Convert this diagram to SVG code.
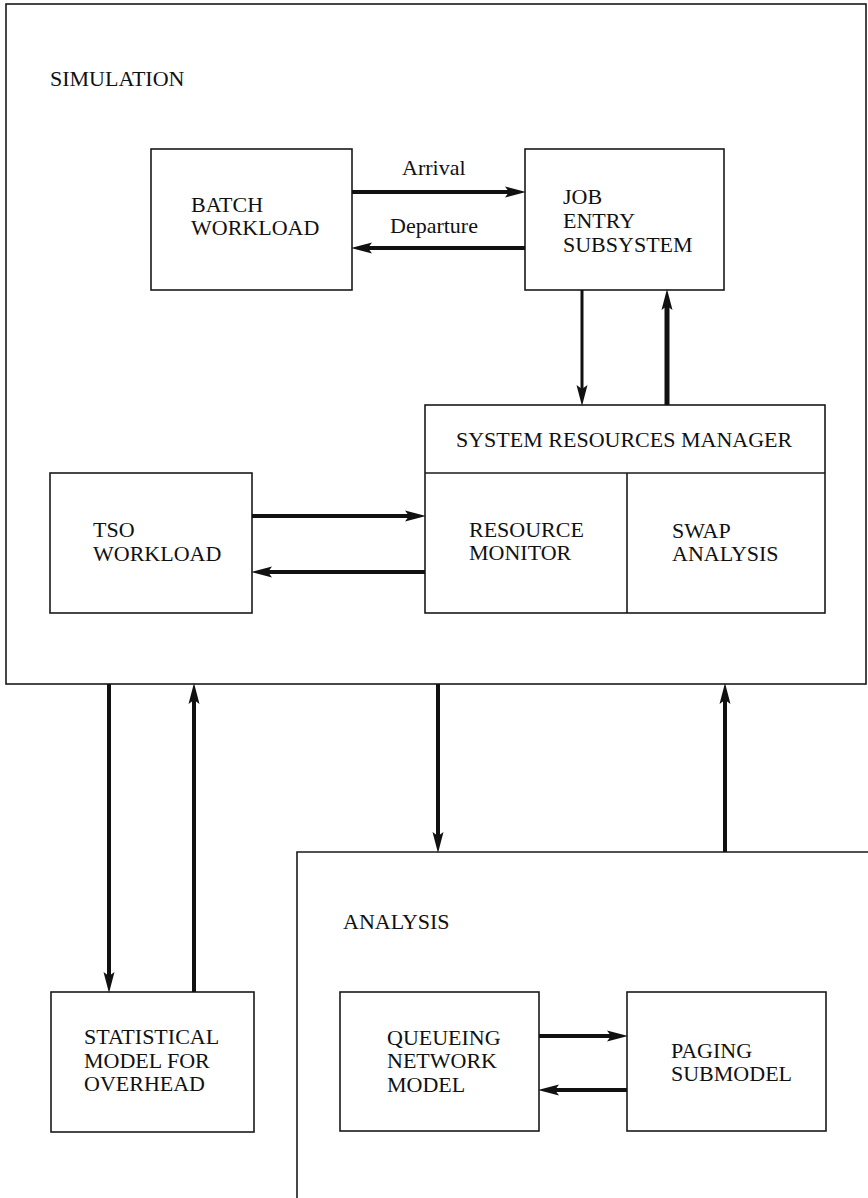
<svg xmlns="http://www.w3.org/2000/svg" width="868" height="1198" viewBox="0 0 868 1198">
  <style>
    .box { fill: none; stroke: #1a1a1a; stroke-width: 1.6; }
    .lbl { font-family: "Liberation Serif", "Times New Roman", serif; font-size: 22px; fill: #111; }
    .arr { stroke: #111; stroke-width: 4; fill: none; marker-end: url(#ah); }
  </style>
  <defs>
    <marker id="ah" markerUnits="userSpaceOnUse" markerWidth="22" markerHeight="12" refX="10" refY="6" orient="auto" viewBox="0 0 22 12">
      <path d="M0,0.5 L21,6 L0,11.5 L4,6 Z" fill="#111"/>
    </marker>
  </defs>
  <rect width="868" height="1198" fill="#fff"/>

  <g id="simulation">
    <rect class="box" x="6" y="4" width="860" height="680"/>
    <text class="lbl" x="50" y="86">SIMULATION</text>
  </g>

  <g id="batch-workload">
    <rect class="box" x="151" y="149" width="201" height="141"/>
    <text class="lbl" x="191" y="212">BATCH</text>
    <text class="lbl" x="191" y="235">WORKLOAD</text>
  </g>

  <g id="job-entry-subsystem">
    <rect class="box" x="525" y="149" width="199" height="141"/>
    <text class="lbl" x="563" y="204">JOB</text>
    <text class="lbl" x="563" y="228">ENTRY</text>
    <text class="lbl" x="563" y="252">SUBSYSTEM</text>
  </g>

  <g id="system-resources-manager">
    <rect class="box" x="425" y="405" width="400" height="208"/>
    <line class="box" x1="425" y1="473" x2="825" y2="473"/>
    <line class="box" x1="627" y1="473" x2="627" y2="613"/>
    <text class="lbl" x="456" y="447">SYSTEM RESOURCES MANAGER</text>
  </g>

  <g id="resource-monitor">
    <text class="lbl" x="469" y="537">RESOURCE</text>
    <text class="lbl" x="469" y="560">MONITOR</text>
  </g>

  <g id="swap-analysis">
    <text class="lbl" x="672" y="538">SWAP</text>
    <text class="lbl" x="672" y="561">ANALYSIS</text>
  </g>

  <g id="tso-workload">
    <rect class="box" x="50" y="473" width="202" height="140"/>
    <text class="lbl" x="93" y="537">TSO</text>
    <text class="lbl" x="93" y="561">WORKLOAD</text>
  </g>

  <g id="statistical-model">
    <rect class="box" x="51" y="992" width="203" height="140"/>
    <text class="lbl" x="84" y="1044">STATISTICAL</text>
    <text class="lbl" x="84" y="1068">MODEL FOR</text>
    <text class="lbl" x="84" y="1091">OVERHEAD</text>
  </g>

  <g id="analysis">
    <path class="box" d="M868,852 L297,852 L297,1198"/>
    <text class="lbl" x="343" y="929">ANALYSIS</text>
  </g>

  <g id="queueing-network-model">
    <rect class="box" x="340" y="992" width="199" height="139"/>
    <text class="lbl" x="387" y="1045">QUEUEING</text>
    <text class="lbl" x="387" y="1068">NETWORK</text>
    <text class="lbl" x="387" y="1092">MODEL</text>
  </g>

  <g id="paging-submodel">
    <rect class="box" x="627" y="992" width="199" height="139"/>
    <text class="lbl" x="671" y="1058">PAGING</text>
    <text class="lbl" x="671" y="1081">SUBMODEL</text>
  </g>

  <g id="connectors">
    <line class="arr" x1="352" y1="192" x2="515" y2="192"/>
    <text class="lbl" x="402" y="175">Arrival</text>
    <line class="arr" x1="525" y1="248" x2="362" y2="248"/>
    <text class="lbl" x="390" y="233">Departure</text>
    <line class="arr" x1="582" y1="290" x2="582" y2="395" style="stroke-width:3"/>
    <line class="arr" x1="667" y1="405" x2="667" y2="300" style="stroke-width:5"/>
    <line class="arr" x1="252" y1="516" x2="415" y2="516"/>
    <line class="arr" x1="425" y1="572" x2="262" y2="572"/>
    <line class="arr" x1="109" y1="684" x2="109" y2="982"/>
    <line class="arr" x1="194" y1="992" x2="194" y2="694"/>
    <line class="arr" x1="438" y1="684" x2="438" y2="842"/>
    <line class="arr" x1="725" y1="852" x2="725" y2="694"/>
    <line class="arr" x1="539" y1="1036" x2="617" y2="1036"/>
    <line class="arr" x1="627" y1="1090" x2="549" y2="1090"/>
  </g>
</svg>
